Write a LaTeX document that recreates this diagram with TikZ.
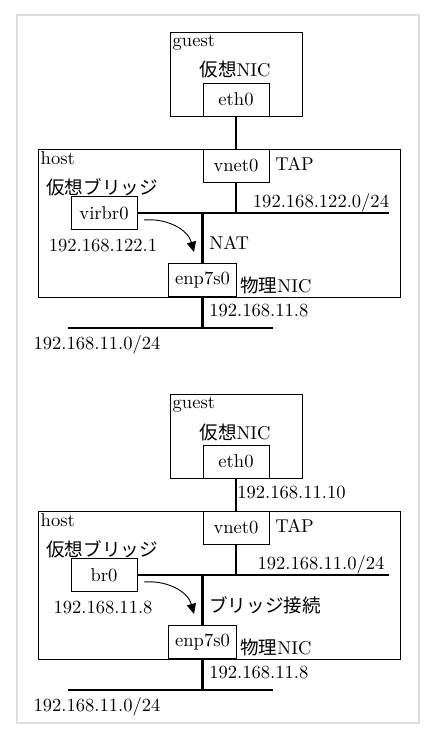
\documentclass[tikz,border=0pt]{standalone}
\usepackage{fontspec}
\newfontfamily\jp{Noto Sans CJK JP}
\usetikzlibrary{arrows.meta}

% 1 px de l'image
\newcommand{\pxu}{0.539pt}

\tikzset{
    cadre/.style={draw, line width=0.5pt, inner sep=0pt},
    nic/.style={draw, line width=0.5pt, minimum width=66*\pxu, minimum height=33*\pxu},
    lbl/.style={inner sep=0pt},
    cable/.style={line width=1.6pt},
    flux/.style={-{Triangle[length=5.5pt,width=5pt]}, line width=0.5pt},
}

% #1 pont, #2 ip du pont, #3 sous-reseau, #4 mode
\newcommand{\reseau}[4]{
    % invite
    \node[cadre, minimum width=132*\pxu, minimum height=84*\pxu] (guest) at (236,74) {};
    \node[lbl, anchor=north west, inner sep=1.5pt] (guestname) at (guest.north west) {guest};
    \node[nic, anchor=south] (eth0) at (guest.south) {eth0};
    \node[lbl] (vnic) at (235,70) {{\jp 仮想}NIC};

    % hote
    \node[cadre, minimum width=362*\pxu, minimum height=148*\pxu] (host) at (219,223) {};
    \node[lbl, anchor=north west, inner sep=1.5pt] (hostname) at (host.north west) {host};
    \node[nic, anchor=north] (vnet0) at (host.north -| eth0) {vnet0};
    \node[lbl, anchor=west] (tap) at (275,164) {TAP};
    \node[lbl] (vbr) at (102,187) {\jp 仮想ブリッジ};
    \node[nic] (bridge) at (104,213) {#1};
    \node[lbl] (bridgeip) at (103,246) {#2};
    \node[nic, minimum width=65*\pxu, anchor=south] (enp) at (202.5,297) {enp7s0};
    \node[lbl, anchor=west] (phys) at (240,285) {{\jp 物理}NIC};
    \node[lbl, anchor=west] (mode) at (209,243) {#4};
    \node[lbl] (subnet) at (321,203) {#3};
    \node[lbl, anchor=west] (hostip) at (209,311) {192.168.11.8};
    \node[lbl] (lan) at (97,345) {192.168.11.0/24};

    % cables
    \coordinate (bus-e) at (389,213);
    \coordinate (lan-w) at (68,328);
    \coordinate (lan-e) at (273,328);
    \draw[cable] (eth0) -- (vnet0);
    \draw[cable] (bridge.east) -- (bus-e);
    \draw[cable] (vnet0.south) -- (vnet0.south |- bus-e);
    \draw[cable] (enp.north) -- (enp.north |- bus-e);
    \draw[cable] (enp.south) -- (enp.south |- lan-w);
    \draw[cable] (lan-w) -- (lan-e);

    % fleche
    \coordinate (flux-s) at (144,220);
    \coordinate (flux-e) at (194,252);
    \draw[flux] (flux-s) to[out=5, in=105] (flux-e);
}

\begin{document}
\begin{tikzpicture}[x=\pxu, y=-\pxu]
    \useasboundingbox (0,0) rectangle (442,739);

    % cadre
    \draw[black!13, line width=0.6pt] (17,15) rectangle (419,723);

    % NAT
    \begin{scope}[name prefix=a-]
        \reseau{virbr0}{192.168.122.1}{192.168.122.0/24}{NAT}
    \end{scope}

    % pont
    \begin{scope}[shift={(0,362)}, name prefix=b-]
        \reseau{br0}{192.168.11.8}{192.168.11.0/24}{\jp ブリッジ接続}
        \node[lbl, anchor=west] (guestip) at (237,131) {192.168.11.10};
    \end{scope}
\end{tikzpicture}
\end{document}
